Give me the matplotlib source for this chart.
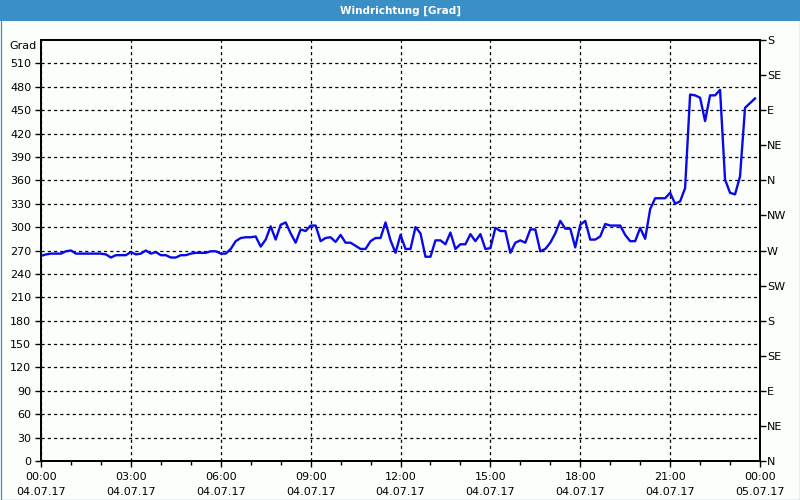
import matplotlib
matplotlib.use("Agg")
import matplotlib.pyplot as plt
from matplotlib.patches import Rectangle
import numpy as np

# ---- data ----
title = "Windrichtung [Grad]"
step_minutes = 10
wind_dir = [
    263, 265, 266, 266, 266, 269, 270, 266, 266, 266,
    266, 266, 266, 265, 261, 264, 264, 264, 268, 265,
    266, 270, 266, 268, 264, 264, 261, 261, 264, 264,
    266, 267, 267, 267, 269, 269, 266, 266, 272, 282,
    286, 287, 287, 288, 275, 284, 301, 284, 303, 306,
    292, 280, 297, 295, 302, 302, 282, 286, 287, 281,
    290, 280, 280, 276, 272, 272, 282, 286, 286, 306,
    283, 267, 290, 272, 272, 300, 292, 262, 262, 283,
    283, 278, 293, 272, 278, 278, 291, 282, 291, 272,
    273, 299, 295, 295, 267, 280, 283, 280, 297, 297,
    269, 272, 280, 292, 308, 298, 298, 274, 303, 308,
    284, 284, 288, 304, 302, 302, 302, 290, 282, 282,
    299, 285, 323, 337, 337, 337, 344, 330, 333, 350,
    470, 469, 466, 436, 469, 469, 476, 361, 344, 342,
    365, 453, 459, 465,
]
x_tick_hours = [0, 3, 6, 9, 12, 15, 18, 21, 24]
x_tick_labels = ["00:00\n04.07.17", "03:00\n04.07.17", "06:00\n04.07.17",
                 "09:00\n04.07.17", "12:00\n04.07.17", "15:00\n04.07.17",
                 "18:00\n04.07.17", "21:00\n04.07.17", "00:00\n05.07.17"]
y_ticks = list(range(0, 540, 30))
compass_ticks = list(range(0, 541, 45))
compass_labels = ["N", "NE", "E", "SE", "S", "SW", "W", "NW", "N", "NE", "E", "SE", "S"]

hours = np.arange(len(wind_dir)) * step_minutes / 60.0

# ---- figure ----
bg = "#fcfefc"
bar_col = "#3b8fc7"
fig = plt.figure(figsize=(8, 5), dpi=100, facecolor=bg)

# title bar and frame
fig.patches.append(Rectangle((0, 1 - 21 / 500), 1, 21 / 500, transform=fig.transFigure,
                             facecolor=bar_col, edgecolor="none", zorder=0))
fig.patches.append(Rectangle((0.5 / 800, 0.5 / 500), 1 - 1 / 800, 1 - 1 / 500,
                             transform=fig.transFigure, facecolor="none",
                             edgecolor=bar_col, linewidth=0.9, zorder=5))
fig.text(0.5, 1 - 10.5 / 500, title, color="white", fontsize=7.5, fontweight="bold",
         ha="center", va="center", family="DejaVu Sans")

ax = fig.add_axes([41 / 800, 39 / 500, 719 / 800, 421 / 500])
ax.set_facecolor(bg)
ax.plot(hours, wind_dir, color="#0a0ae8", linewidth=1.7, zorder=3)

ax.set_xlim(0, 24)
ax.set_ylim(0, 540)
ax.set_xticks(x_tick_hours)
ax.set_xticklabels(x_tick_labels, fontsize=8, linespacing=1.55)
ax.set_xticks(np.arange(0, 25, 1), minor=True)
ax.set_yticks(y_ticks)
ax.set_yticklabels([str(v) for v in y_ticks], fontsize=8)
ax.tick_params(axis="x", which="major", direction="out", length=4, width=1, pad=4)
ax.tick_params(axis="x", which="minor", direction="out", length=3, width=1)
ax.tick_params(axis="y", direction="out", length=4, width=1, pad=3)

ax.grid(True, which="major", color="black", linestyle=(0, (2.5, 2.5)), linewidth=0.9)
for s in ax.spines.values():
    s.set_linewidth(1.3)
    s.set_color("black")

ax2 = ax.twinx()
ax2.set_ylim(0, 540)
ax2.set_yticks(compass_ticks)
ax2.set_yticklabels(compass_labels, fontsize=8)
ax2.tick_params(axis="y", direction="out", length=4, width=1, pad=1)
for s in ax2.spines.values():
    s.set_linewidth(1.3)

fig.text(37 / 800, 1 - 46 / 500, "Grad", fontsize=8, ha="right", va="center")

fig.savefig("out.png", dpi=100, facecolor=bg)
